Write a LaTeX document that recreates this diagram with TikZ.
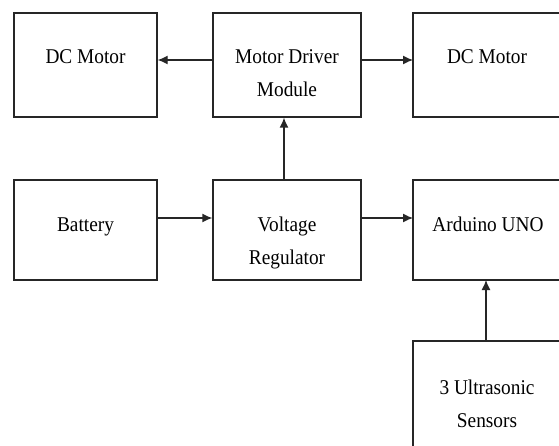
\documentclass[tikz,border=0pt]{standalone}
\usepackage{fontspec}
\setmainfont{Liberation Serif}[FakeStretch=0.92]
\usetikzlibrary{arrows.meta}
\begin{document}
\begin{tikzpicture}[x=1pt,y=-1pt,
  blk/.style={draw=black!85,line width=1.3pt,rectangle,inner sep=0pt},
  opn/.style={rectangle,inner sep=0pt,outer sep=0pt},
  ln/.style={draw=black!85,line width=1.3pt},
  lbl/.style={anchor=base,inner sep=0pt,font=\fontsize{21}{24}\selectfont},
  arr/.style={draw=black!85,line width=1.3pt,-{Latex[length=10pt,width=9pt]}}]
\useasboundingbox (0,0) rectangle (559,446);
\fill[white] (0,0) rectangle (559,446);
% boxes
\node[blk,minimum width=143pt,minimum height=104pt] (dcl) at (85.5,65) {};
\node[blk,minimum width=148pt,minimum height=104pt] (drv) at (287,65) {};
\node[opn,minimum width=146pt,minimum height=104pt,anchor=north west] (dcr) at (413,13) {};
\node[blk,minimum width=143pt,minimum height=100pt] (bat) at (85.5,230) {};
\node[blk,minimum width=148pt,minimum height=100pt] (reg) at (287,230) {};
\node[opn,minimum width=146pt,minimum height=100pt,anchor=north west] (ard) at (413,180) {};
\node[opn,minimum width=146pt,minimum height=105pt,anchor=north west] (sen) at (413,341) {};
\draw[ln] (dcr.north east) -- (dcr.north west) -- (dcr.south west) -- (dcr.south east);
\draw[ln] (ard.north east) -- (ard.north west) -- (ard.south west) -- (ard.south east);
\draw[ln] (sen.north east) -- (sen.north west) -- (sen.south west);
% texts
\node[lbl] (tdcl) at (85.5,64) {DC Motor};
\node[lbl] (tdrv1) at (287,64) {Motor Driver};
\node[lbl] (tdrv2) at (287,97) {Module};
\node[lbl] (tdcr) at (487,64) {DC Motor};
\node[lbl] (tbat) at (85.5,232) {Battery};
\node[lbl] (treg1) at (287,232) {Voltage};
\node[lbl] (treg2) at (287,265) {Regulator};
\node[lbl] (tard) at (488,232) {Arduino UNO};
\node[lbl] (tsen1) at (487,394) {3 Ultrasonic};
\node[lbl] (tsen2) at (487,427) {Sensors};
% arrows
\draw[arr] ([yshift=5pt]drv.west) -- ([yshift=5pt]dcl.east);
\draw[arr] ([yshift=5pt]drv.east) -- (dcr.west |- 0,60);
\draw[arr] ([yshift=12pt]bat.east) -- ([yshift=12pt]reg.west);
\draw[arr] ([yshift=12pt]reg.east) -- (ard.west |- 0,218);
\draw[arr] ([xshift=-3pt]reg.north) -- ([xshift=-3pt]drv.south);
\draw[arr] (sen.north -| 486,0) -- (ard.south -| 486,0);
\end{tikzpicture}
\end{document}
